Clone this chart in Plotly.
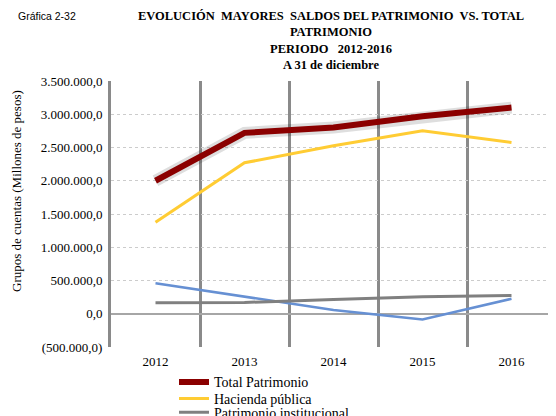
import plotly.graph_objects as go

years = ["2012", "2013", "2014", "2015", "2016"]
total_patrimonio = [2000000, 2720000, 2800000, 2970000, 3100000]
hacienda_publica = [1375000, 2270000, 2525000, 2750000, 2575000]
patrimonio_institucional = [165000, 170000, 215000, 255000, 275000]
otro_grupo = [460000, 260000, 55000, -85000, 225000]

y_tickvals = [3500000, 3000000, 2500000, 2000000, 1500000, 1000000, 500000, 0, -500000]
y_ticktext = ["3.500.000,0", "3.000.000,0", "2.500.000,0", "2.000.000,0", "1.500.000,0",
              "1.000.000,0", "500.000,0", "0,0", "(500.000,0)"]

SERIF = "Liberation Serif"

fig = go.Figure()

# shadow under the total line
fig.add_trace(go.Scatter(x=years, y=total_patrimonio, mode="lines",
                         line=dict(color="rgba(0,0,0,0.13)", width=12),
                         showlegend=False, hoverinfo="skip"))
fig.add_trace(go.Scatter(x=years, y=total_patrimonio, mode="lines", name="Total Patrimonio",
                         line=dict(color="#8B0000", width=6), legend="legend"))
fig.add_trace(go.Scatter(x=years, y=hacienda_publica, mode="lines", name="Hacienda pública",
                         line=dict(color="#FFCC33", width=3), legend="legend2"))
fig.add_trace(go.Scatter(x=years, y=otro_grupo, mode="lines", name="Otros",
                         line=dict(color="#6690D3", width=2.5), showlegend=False))
fig.add_trace(go.Scatter(x=years, y=patrimonio_institucional, mode="lines",
                         name="Patrimonio institucional",
                         line=dict(color="#808080", width=3), legend="legend3"))

def leg(y):
    return dict(x=(174 - 111) / 445, xanchor="left", y=y, yanchor="middle",
                bgcolor="rgba(0,0,0,0)",
                font=dict(family=SERIF, size=14, color="#000"), itemwidth=30,
                tracegroupgap=0)

fig.update_layout(
    width=556, height=416,
    margin=dict(l=103, r=8, t=73, b=77, autoexpand=False),
    paper_bgcolor="white", plot_bgcolor="white",
    font=dict(family=SERIF),
    showlegend=True,
    legend=leg(-0.133),
    legend2=leg(-0.195),
    legend3=leg(-0.247),
    title=dict(
        text="EVOLUCIÓN  MAYORES  SALDOS DEL PATRIMONIO  VS. TOTAL<br>PATRIMONIO<br>PERIODO   2012-2016<br>A 31 de diciembre",
        font=dict(family=SERIF, size=12.5, color="#000", weight="bold"),
        x=323 / 556, xref="container", xanchor="center",
        y=1 - 12 / 416, yref="container", yanchor="top",
    ),
    xaxis=dict(
        type="category", tickson="boundaries", range=[-0.5, 4.5],
        showgrid=True, gridcolor="#8a8a8a", gridwidth=3,
        ticks="", showline=False, zeroline=False,
        tickfont=dict(family=SERIF, size=13, color="#000"),
        ticklabelstandoff=5,
    ),
    yaxis=dict(
        range=[-500000, 3500000],
        tickvals=y_tickvals, ticktext=y_ticktext,
        showgrid=True, gridcolor="#cccccc", gridwidth=1, griddash="dot",
        zeroline=True, zerolinecolor="#a6a6a6", zerolinewidth=1.5,
        showline=True, linecolor="#8a8a8a", linewidth=3,
        ticks="", ticklabelstandoff=3,
        tickfont=dict(family=SERIF, size=13, color="#000"),
    ),
    annotations=[
        dict(text="Gráfica 2-32", xref="paper", yref="paper",
             x=(16 - 111) / 445, y=(347 - 16) / 266, xanchor="left", yanchor="middle",
             showarrow=False, font=dict(family="Liberation Sans", size=10.5, color="#000")),
        dict(text="Grupos de cuentas (Millones de pesos)", xref="paper", yref="paper",
             x=(16 - 111) / 445, y=(347 - 191) / 266, xanchor="center", yanchor="middle",
             textangle=-90, showarrow=False,
             font=dict(family=SERIF, size=13, color="#000")),
    ],
)

fig.write_html("out.html")
